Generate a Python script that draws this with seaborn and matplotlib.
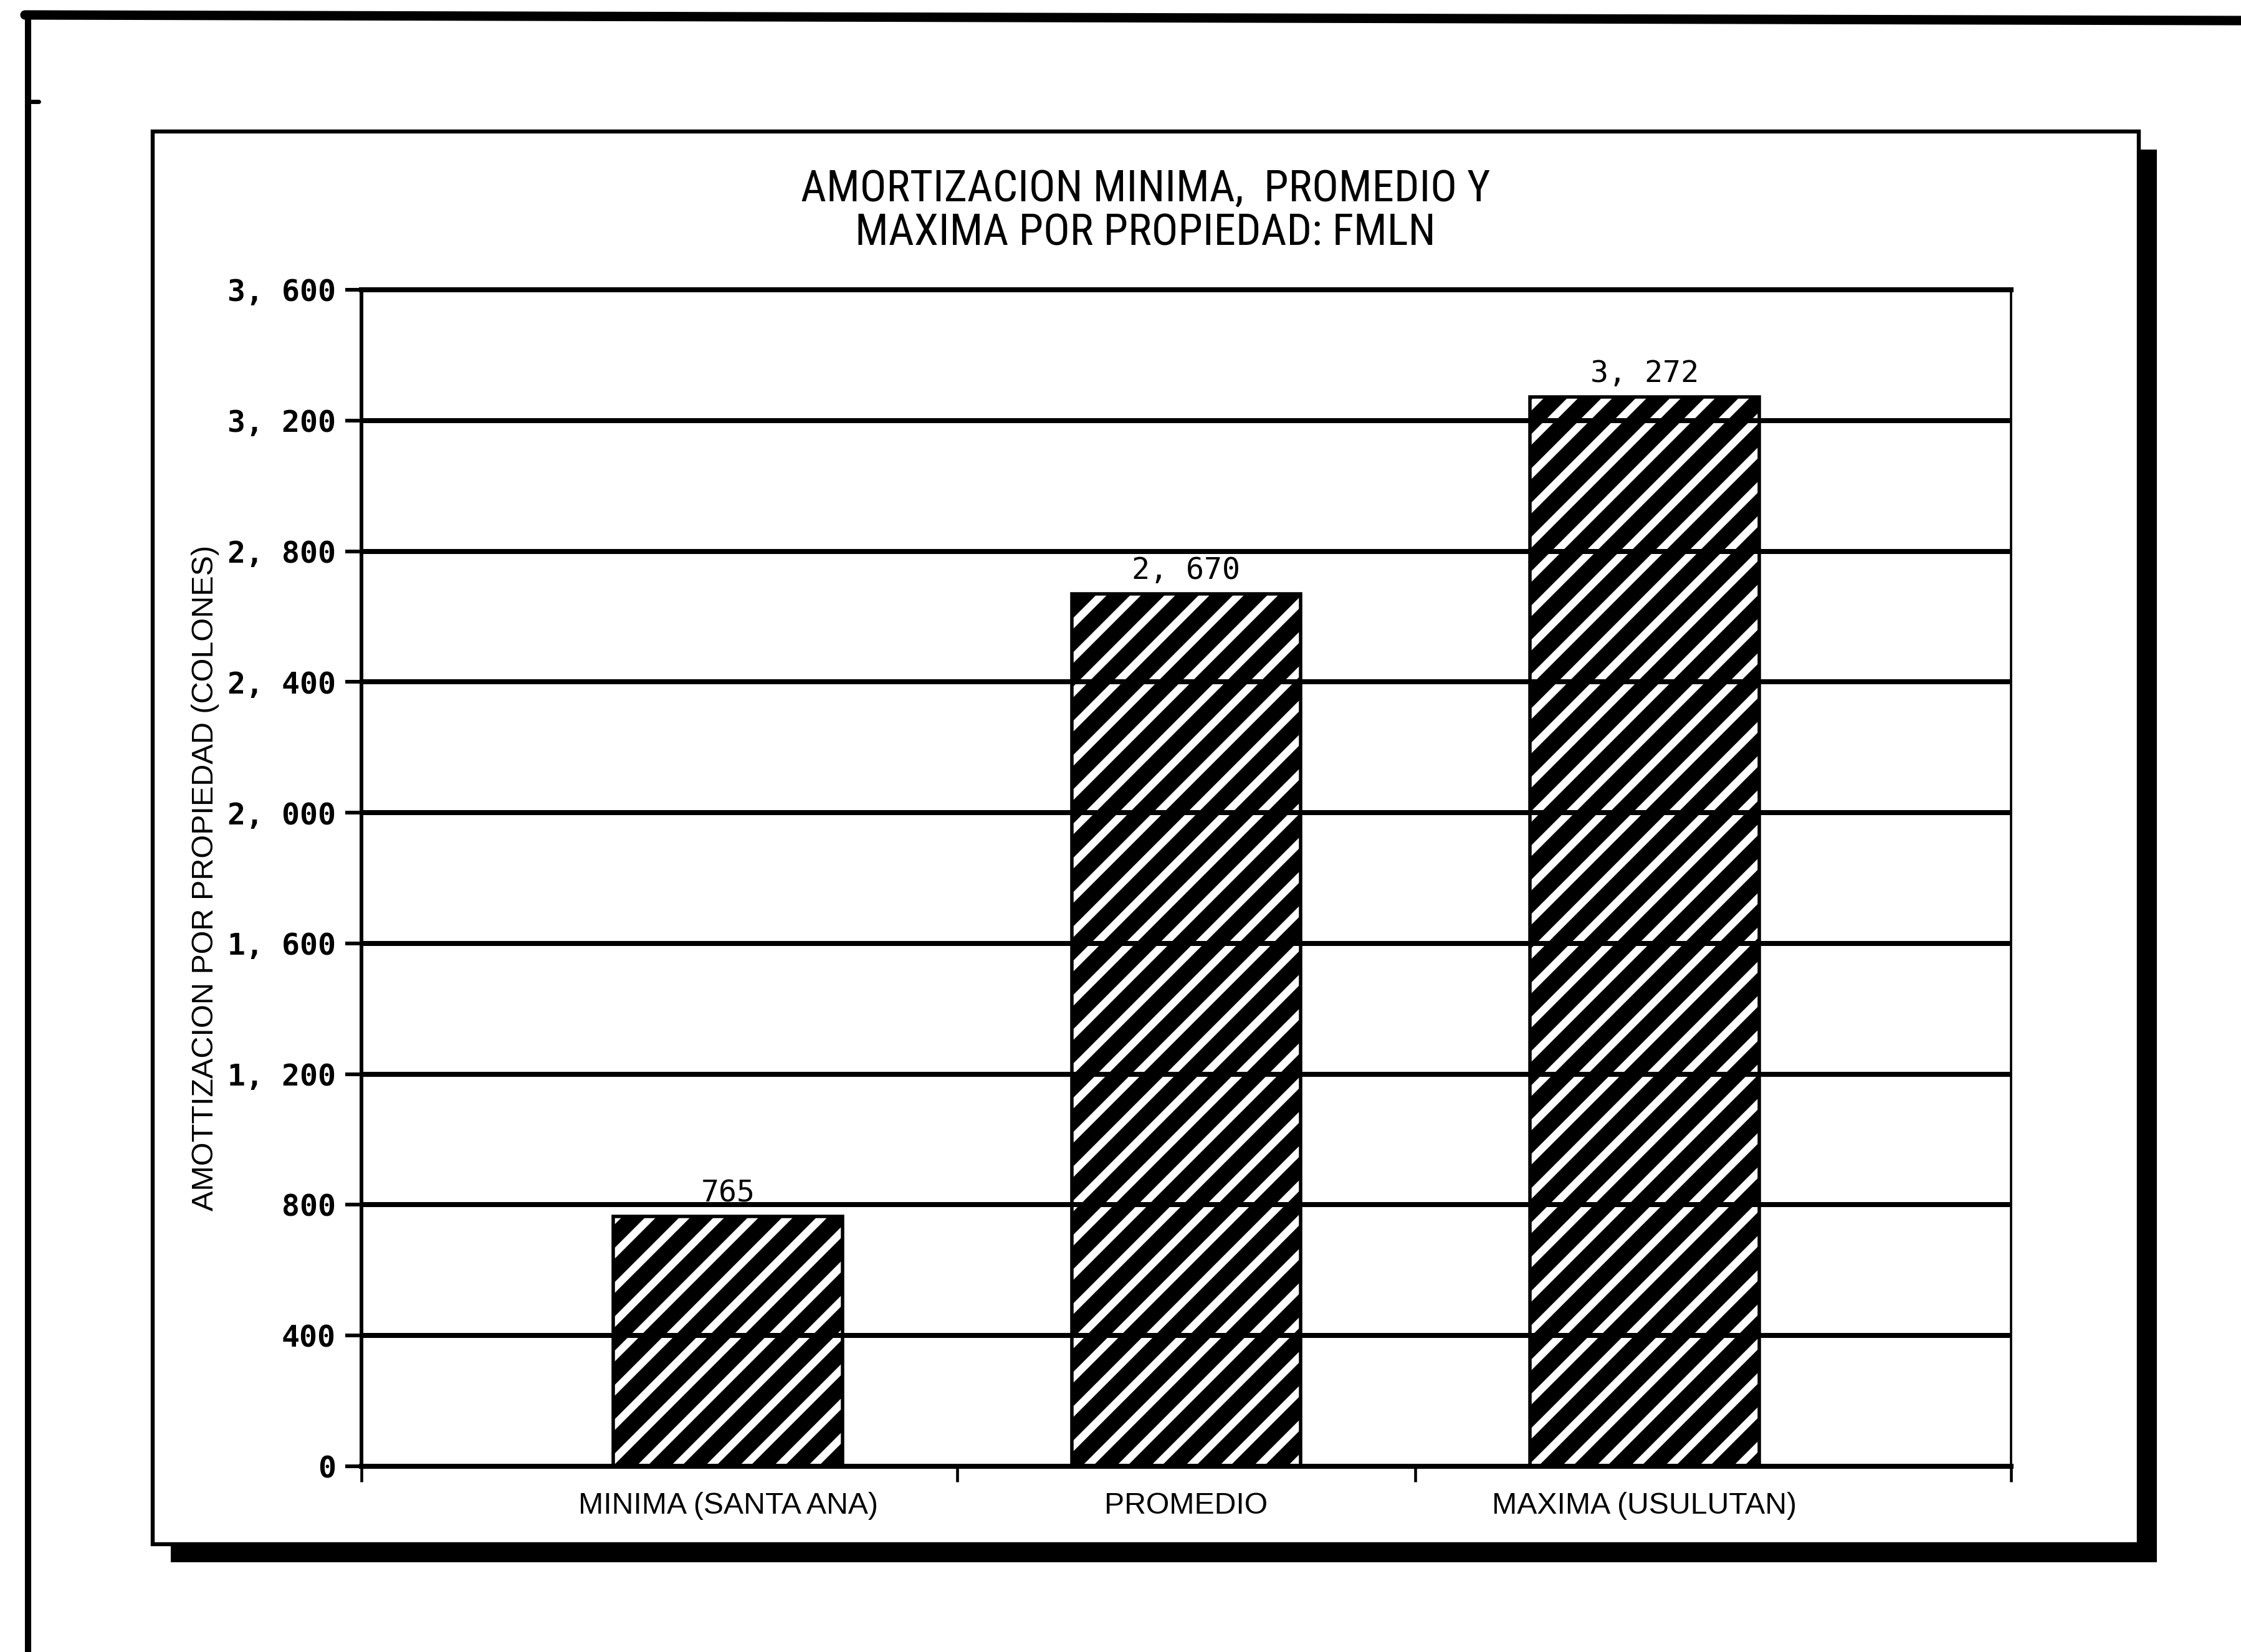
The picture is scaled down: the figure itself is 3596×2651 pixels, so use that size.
import matplotlib
matplotlib.use("Agg")
import matplotlib.pyplot as plt
import seaborn as sns
import pandas as pd
from matplotlib import font_manager
from matplotlib.patches import Rectangle
from matplotlib.lines import Line2D

# ---------------- data ----------------
categories = ["MINIMA (SANTA ANA)", "PROMEDIO", "MAXIMA (USULUTAN)"]
values = [765, 2670, 3272]
value_labels = ["765", "2, 670", "3, 272"]
ytick_values = [0, 400, 800, 1200, 1600, 2000, 2400, 2800, 3200, 3600]
ytick_labels = ["0", "400", "800", "1, 200", "1, 600", "2, 000", "2, 400",
                "2, 800", "3, 200", "3, 600"]
title_lines = ["AMORTIZACION MINIMA,  PROMEDIO Y", "MAXIMA POR PROPIEDAD: FMLN"]
ylabel_text = "AMOTTIZACION POR PROPIEDAD (COLONES)"


def has_font(name):
    try:
        font_manager.findfont(font_manager.FontProperties(family=name),
                              fallback_to_default=False)
        return True
    except Exception:
        return False


def find_condensed():
    """Return a path to an installed condensed / narrow sans font, if any."""
    prefs = ["Liberation Sans Narrow", "Roboto Condensed", "Open Sans Condensed",
             "DejaVu Sans", "Noto Sans", "Open Sans", "Roboto", "Lato", "Inter"]
    cands = []
    for f in font_manager.fontManager.ttflist:
        nm = f.name
        st = str(f.stretch).lower()
        path = f.fname.lower()
        narrow = (st in ("condensed", "semi-condensed", "extra-condensed",
                         "ultra-condensed", "narrow")
                  or "condensed" in nm.lower() or "narrow" in nm.lower()
                  or "condensed" in path or "narrow" in path)
        if narrow and f.style == "normal" and f.weight in (400, "normal", "regular"):
            cands.append(f)
    for p in prefs:
        for f in cands:
            if f.name == p or f.name.startswith(p):
                return f.fname
    return cands[0].fname if cands else None


sns.set_theme(style="white")
SANS = "Liberation Sans" if has_font("Liberation Sans") else "DejaVu Sans"
MONO = "DejaVu Sans Mono"
COND = find_condensed()
plt.rcParams["font.family"] = [SANS, "DejaVu Sans"]
plt.rcParams["hatch.linewidth"] = 5.8
plt.rcParams["hatch.color"] = "black"

DPI = 330
W, H = 3596, 2651
fig = plt.figure(figsize=(W / DPI, H / DPI), dpi=DPI)
fig.patch.set_facecolor("white")


def fx(px):
    return px / W


def fy(py):
    return 1 - py / H


# ---------------- page border ----------------
fig.add_artist(Line2D([fx(45), fx(45)], [0, fy(22)], transform=fig.transFigure,
                      color="black", lw=2.2, zorder=-5))
fig.add_artist(Line2D([fx(40), 1.0], [fy(24), fy(33)], transform=fig.transFigure,
                      color="black", lw=3.3, zorder=-5))
fig.add_artist(Line2D([fx(45), fx(62)], [fy(163), fy(163)], transform=fig.transFigure,
                      color="black", lw=1.5, zorder=-5))

# ---------------- chart frame with drop shadow ----------------
fl, ft, fr, fb = 245, 211, 3432, 2478
off = 29
fig.add_artist(Rectangle((fx(fl + off), fy(fb + off)), fx(fr - fl), (fb - ft) / H,
                         transform=fig.transFigure, facecolor="black",
                         edgecolor="black", lw=0, zorder=-4))
fig.add_artist(Rectangle((fx(fl), fy(fb)), fx(fr - fl), (fb - ft) / H,
                         transform=fig.transFigure, facecolor="white",
                         edgecolor="black", lw=1.4, zorder=-3))

# ---------------- axes ----------------
ax_l, ax_r, ax_t, ax_b = 580, 3227, 465, 2353
ax = fig.add_axes([fx(ax_l), fy(ax_b), fx(ax_r - ax_l), (ax_b - ax_t) / H])
ax.set_facecolor("none")

df = pd.DataFrame({"cat": categories, "val": values})
sns.barplot(data=df, x="cat", y="val", ax=ax, color="white", saturation=1,
            edgecolor="black", linewidth=1.2, width=0.5, hatch="//", zorder=1)

ax.set_xlim(-0.8, 2.8)
ax.set_ylim(0, 3600)

ax.set_yticks(ytick_values, ytick_labels, fontfamily=MONO, fontweight="bold",
              fontsize=10.5)
ax.set_xticks(range(len(categories)), categories, fontsize=10.5)
ax.set_xticks([-0.8, 0.5, 1.5, 2.8], minor=True)

ax.tick_params(axis="y", which="major", direction="out", length=5.7, width=1.3,
               color="black", pad=3.3, left=True, labelcolor="black")
ax.tick_params(axis="x", which="major", length=0, pad=9.0, labelcolor="black")
ax.tick_params(axis="x", which="minor", direction="out", length=5.5, width=1.0,
               color="black", bottom=True)

ax.yaxis.grid(True, color="black", linewidth=1.75)
ax.xaxis.grid(False)
ax.set_axisbelow(False)

for side, lw in (("left", 1.3), ("right", 0.8), ("top", 1.75), ("bottom", 1.75)):
    ax.spines[side].set_visible(True)
    ax.spines[side].set_color("black")
    ax.spines[side].set_linewidth(lw)

ax.set_xlabel("")
ax.set_ylabel(ylabel_text, fontsize=10.6, color="black")
ax.yaxis.set_label_coords(-0.086, 0.5)

ax.bar_label(ax.containers[0], labels=value_labels, padding=3,
             fontfamily=MONO, fontsize=10.5, color="black")

# ---------------- title ----------------
if COND:
    tkw = dict(fontproperties=font_manager.FontProperties(fname=COND, size=15.5))
else:
    tkw = dict(fontsize=12.5, family=[SANS, "DejaVu Sans"])
fig.text(fx(1838), fy(323), title_lines[0], ha="center", va="baseline",
         color="black", **tkw)
fig.text(fx(1838), fy(393), title_lines[1], ha="center", va="baseline",
         color="black", **tkw)

fig.savefig("out.png", dpi=DPI, facecolor="white")
